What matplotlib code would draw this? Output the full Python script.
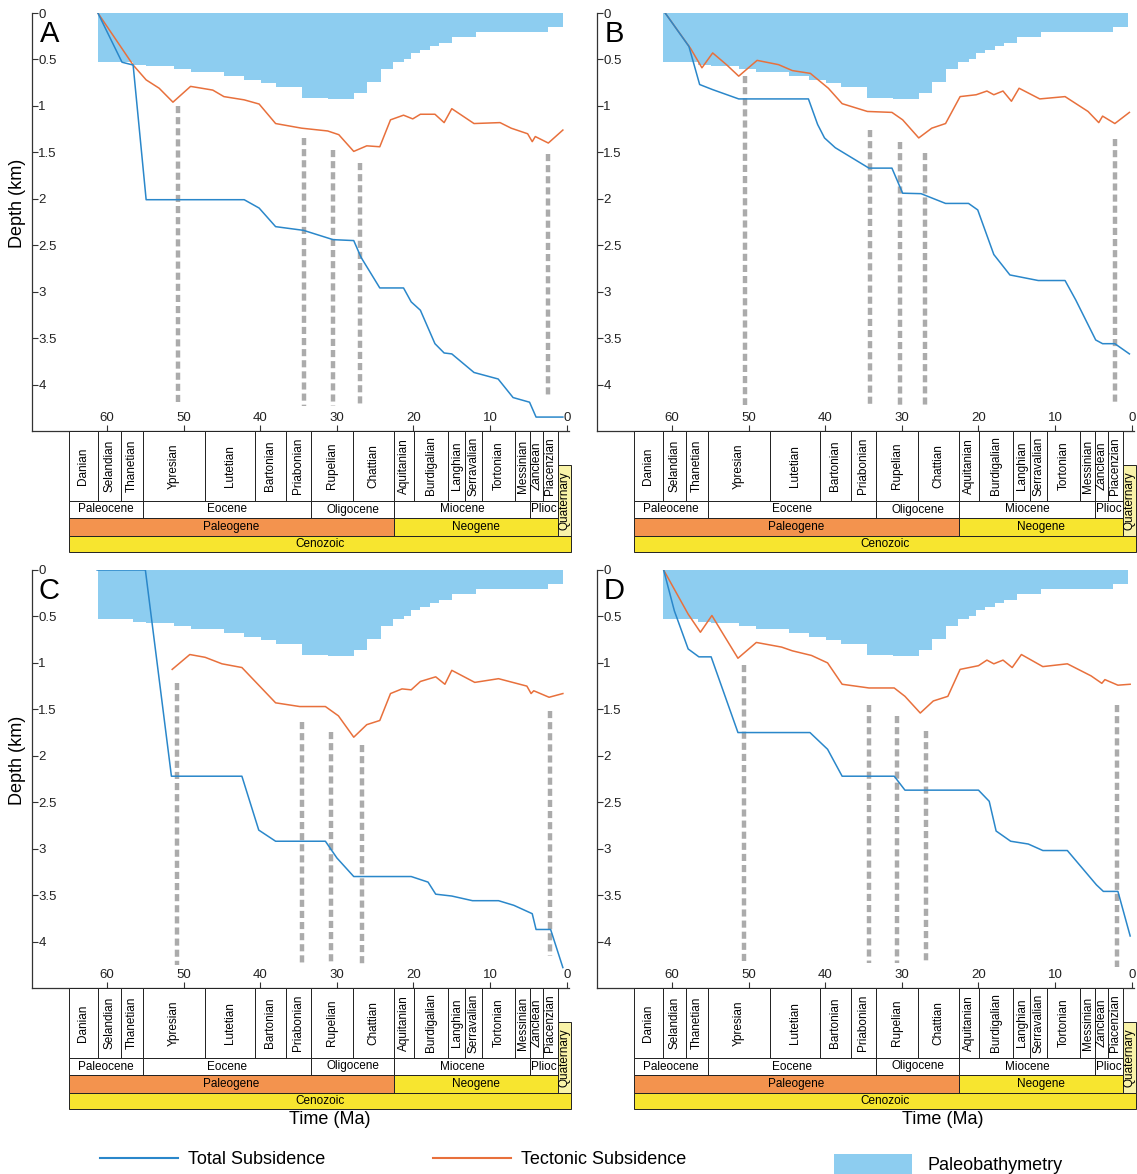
import numpy as np
import matplotlib
matplotlib.use('Agg')
import matplotlib.pyplot as plt
from matplotlib.lines import Line2D
from matplotlib.patches import Patch, Rectangle

plt.rcParams['font.family'] = ['Liberation Sans', 'DejaVu Sans']

# ---- data (ages in Ma, depths in km) ----
bathy_edges = [61.2, 56.6, 54.9, 51.3, 49.1, 44.75, 42.1, 39.9, 38.0, 34.6, 31.2, 27.8,
               26.1, 24.2, 22.7, 21.3, 20.3, 19.1, 17.9, 16.7, 15.0, 11.85, 2.4, 0.5]
bathy_depth = [0.53, 0.555, 0.575, 0.60, 0.64, 0.68, 0.72, 0.75, 0.80, 0.92, 0.93, 0.86,
               0.74, 0.60, 0.53, 0.49, 0.43, 0.40, 0.36, 0.32, 0.26, 0.20, 0.15]

# well A
a_total_age = [61.2, 58.05, 56.6, 54.9, 42.1, 40.15, 38.0, 34.35, 30.5, 27.8, 26.85, 24.4, 21.3,
               20.3, 19.1, 17.2, 16.0, 15.0, 12.1, 8.95, 7.0, 4.85, 4.0, 0.5]
a_total = [0, 0.53, 0.56, 2.01, 2.01, 2.10, 2.30, 2.34, 2.44, 2.45, 2.63, 2.96, 2.96,
           3.11, 3.20, 3.56, 3.66, 3.67, 3.87, 3.94, 4.14, 4.19, 4.35, 4.35]
a_tect_age = [61.2, 56.6, 54.9, 53.2, 51.4, 49.1, 46.2, 44.75, 42.1, 40.15, 38.0, 34.6, 31.2,
              29.75, 27.8, 26.1, 24.4, 23.0, 21.3, 20.1, 19.1, 17.2, 16.0, 15.0, 12.1, 8.7,
              7.25, 5.1, 4.5, 4.1, 2.4, 0.5]
a_tect = [0, 0.56, 0.72, 0.81, 0.96, 0.79, 0.83, 0.90, 0.935, 0.98, 1.19, 1.24, 1.27,
          1.31, 1.49, 1.43, 1.44, 1.15, 1.10, 1.14, 1.09, 1.09, 1.18, 1.03, 1.19, 1.18,
          1.24, 1.30, 1.385, 1.33, 1.40, 1.26]
a_mark_age = [50.8, 34.35, 30.5, 27.0, 2.4]
a_mark_top = [1.0, 1.35, 1.48, 1.61, 1.52]
a_mark_bot = [4.23, 4.23, 4.23, 4.23, 4.15]

# well B
b_total_age = [60.9, 57.8, 56.4, 54.7, 51.3, 42.2, 41.0, 40.1, 38.7, 37.3, 34.3, 31.3, 29.9,
               27.5, 24.3, 21.3, 20.1, 18.0, 15.9, 12.2, 8.7, 7.3, 4.7, 3.8, 2.2, 0.3]
b_total = [0, 0.36, 0.77, 0.825, 0.925, 0.925, 1.20, 1.345, 1.45, 1.52, 1.67, 1.67, 1.94,
           1.945, 2.05, 2.05, 2.12, 2.60, 2.82, 2.88, 2.88, 3.09, 3.52, 3.56, 3.56, 3.67]
b_tect_age = [60.9, 57.6, 56.1, 54.7, 52.9, 51.3, 48.9, 46.1, 44.3, 41.95, 39.6, 37.8, 34.5,
              31.3, 29.9, 27.8, 26.1, 24.3, 22.4, 20.3, 18.9, 18.0, 16.8, 15.7, 14.7, 12.0,
              8.7, 5.7, 4.3, 3.8, 2.2, 0.3]
b_tect = [0, 0.38, 0.59, 0.43, 0.556, 0.68, 0.51, 0.556, 0.62, 0.65, 0.81, 0.976, 1.06,
          1.07, 1.15, 1.345, 1.24, 1.19, 0.90, 0.88, 0.84, 0.88, 0.84, 0.95, 0.81, 0.925,
          0.90, 1.06, 1.18, 1.11, 1.19, 1.07]
b_mark_age = [50.5, 34.1, 30.3, 27.0, 2.2]
b_mark_top = [0.68, 1.26, 1.39, 1.51, 1.36]
b_mark_bot = [4.22, 4.22, 4.22, 4.22, 4.20]

# well C
c_total_age = [61.3, 55.0, 51.6, 42.4, 40.2, 38.0, 31.5, 30.0, 27.8, 20.3, 18.1, 17.1, 15.0,
               12.3, 8.9, 6.9, 4.5, 4.0, 2.1, 0.5]
c_total = [0, 0, 2.22, 2.22, 2.80, 2.92, 2.92, 3.10, 3.30, 3.30, 3.36, 3.49, 3.51,
           3.56, 3.56, 3.61, 3.70, 3.87, 3.87, 4.28]
c_tect_age = [51.5, 49.2, 47.2, 45.0, 42.4, 40.2, 38.0, 34.85, 31.5, 29.8, 27.8, 26.1, 24.4,
              23.0, 21.5, 20.3, 19.1, 17.1, 15.9, 15.0, 12.0, 8.9, 5.2, 4.65, 4.3, 2.3, 0.5]
c_tect = [1.07, 0.91, 0.94, 1.01, 1.05, 1.24, 1.43, 1.47, 1.47, 1.57, 1.80, 1.665, 1.62,
          1.33, 1.28, 1.29, 1.20, 1.15, 1.23, 1.08, 1.21, 1.17, 1.25, 1.33, 1.30, 1.37, 1.33]
c_mark_age = [50.9, 34.6, 30.8, 26.7, 2.2]
c_mark_top = [1.22, 1.64, 1.74, 1.88, 1.52]
c_mark_bot = [4.25, 4.25, 4.25, 4.25, 4.16]

# well D
d_total_age = [61.1, 59.7, 57.9, 56.5, 54.9, 51.4, 42.0, 39.7, 37.8, 31.0, 29.6, 20.0, 18.6,
               17.7, 15.8, 13.5, 11.6, 8.4, 4.6, 3.7, 1.8, 0.2]
d_total = [0, 0.44, 0.85, 0.935, 0.935, 1.75, 1.75, 1.93, 2.22, 2.22, 2.37, 2.37, 2.49,
           2.81, 2.92, 2.95, 3.02, 3.02, 3.39, 3.46, 3.46, 3.94]
d_tect_age = [61.1, 57.9, 56.3, 54.8, 53.7, 51.4, 49.0, 45.7, 44.3, 41.8, 39.7, 37.8, 34.3,
              31.0, 29.6, 27.6, 25.9, 24.0, 22.4, 20.0, 18.9, 18.0, 16.8, 15.6, 14.4, 11.6,
              8.4, 5.3, 3.9, 3.5, 1.8, 0.2]
d_tect = [0, 0.475, 0.67, 0.49, 0.64, 0.95, 0.78, 0.83, 0.87, 0.92, 1.00, 1.23, 1.27,
          1.27, 1.36, 1.54, 1.41, 1.36, 1.07, 1.03, 0.97, 1.01, 0.97, 1.05, 0.91, 1.04,
          1.01, 1.14, 1.22, 1.18, 1.24, 1.23]
d_mark_age = [50.6, 34.3, 30.6, 26.8, 1.9]
d_mark_top = [1.02, 1.45, 1.57, 1.73, 1.45]
d_mark_bot = [4.23, 4.23, 4.23, 4.23, 4.27]

# geologic time scale
stage_names = ['Danian', 'Selandian', 'Thanetian', 'Ypresian', 'Lutetian', 'Bartonian',
               'Priabonian', 'Rupelian', 'Chattian', 'Aquitanian', 'Burdigalian', 'Langhian',
               'Serravalian', 'Tortonian', 'Messinian', 'Zanclean', 'Piacenzian']
stage_edges = [65.5, 61.7, 58.7, 55.8, 47.8, 41.2, 37.2, 33.9, 28.4, 23.03, 20.43, 15.97,
               13.82, 11.61, 7.25, 5.33, 3.6, 1.7]
epoch_names = ['Paleocene', 'Eocene', 'Oligocene', 'Miocene', 'Plioc']
epoch_edges = [65.5, 55.8, 33.9, 23.03, 5.33, 1.7]
period_names = ['Paleogene', 'Neogene']
period_edges = [65.5, 23.03, 1.7]
quat_edges = [1.7, -0.1]
era_edges = [65.5, -0.1]

xticks = [60, 50, 40, 30, 20, 10, 0]
yticks = [0, 0.5, 1, 1.5, 2, 2.5, 3, 3.5, 4]
ytick_labels = ['0', '0.5', '1', '1.5', '2', '2.5', '3', '3.5', '4']

BLUE = '#2A87CA'
ORANGE = '#E8703C'
BATHY = '#8DCDF0'
GREY = '#ABABAB'
PALEOGENE = '#F3934E'
NEOGENE = '#F7E52F'
QUAT = '#F9F3A8'

W, H = 1137, 1174
fig = plt.figure(figsize=(W / 100, H / 100), dpi=100)


def px_axes(x0, y0, w, h):
    return fig.add_axes([x0 / W, 1 - (y0 + h) / H, w / W, h / H])


XLIM = (69.8, -0.3)
AX_W, AX_H, TS_H = 537, 418, 122


def panel(x0, y0, letter, tot_age, tot, tec_age, tec, m_age, m_top, m_bot):
    ax = px_axes(x0, y0, AX_W, AX_H)
    ax.set_xlim(*XLIM)
    ax.set_ylim(4.5, 0)
    edges = np.array(bathy_edges)[::-1]
    vals = np.array(bathy_depth)[::-1]
    ax.stairs(vals, edges, baseline=0, fill=True, color=BATHY, lw=0, zorder=1)
    ax.vlines(m_age, m_top, m_bot, colors=GREY, lw=3.2, linestyles=(0, (1.6, 0.9)), zorder=2)
    ax.plot(tec_age, tec, color=ORANGE, lw=1.1, zorder=3)
    ax.plot(tot_age, tot, color=BLUE, lw=1.1, zorder=4)
    for s in ['top', 'right']:
        ax.spines[s].set_visible(False)
    for s in ['left', 'bottom']:
        ax.spines[s].set_color('#333333')
        ax.spines[s].set_linewidth(0.9)
    ax.set_xticks(xticks)
    ax.set_yticks(yticks, labels=ytick_labels)
    ax.tick_params(direction='in', length=4, width=0.8, colors='#333333', labelsize=9.5,
                   labelcolor='#222222')
    ax.tick_params(axis='y', pad=-4.5)
    ax.tick_params(axis='x', pad=-5)
    for t in ax.get_yticklabels():
        t.set_ha('left')
    for t in ax.get_xticklabels():
        t.set_va('bottom')
    ax.text(0.032, 0.95, letter, transform=ax.transAxes, fontsize=21, ha='center', va='center')

    # time scale strip
    ts = px_axes(x0 + 4, y0 + AX_H, AX_W, TS_H)
    ts.set_xlim(*XLIM)
    ts.set_ylim(TS_H, 0)
    ts.axis('off')
    kw = dict(lw=0.7, edgecolor='#222222')
    for i, name in enumerate(stage_names):
        a, b = stage_edges[i], stage_edges[i + 1]
        ts.add_patch(Rectangle((b, 0), a - b, 70, facecolor='white', **kw))
        ts.text((a + b) / 2, 35, name, rotation=90, ha='center', va='center', fontsize=8.5)
    for i, name in enumerate(epoch_names):
        a, b = epoch_edges[i], epoch_edges[i + 1]
        ts.add_patch(Rectangle((b, 70), a - b, 17, facecolor='white', **kw))
        ts.text((a + b) / 2, 78.5, name, ha='center', va='center', fontsize=8.5)
    pcols = [PALEOGENE, NEOGENE]
    for i, name in enumerate(period_names):
        a, b = period_edges[i], period_edges[i + 1]
        ts.add_patch(Rectangle((b, 87), a - b, 18, facecolor=pcols[i], **kw))
        ts.text((a + b) / 2, 96, name, ha='center', va='center', fontsize=8.5)
    a, b = quat_edges
    ts.add_patch(Rectangle((b, 34), a - b, 71, facecolor=QUAT, **kw))
    ts.text((a + b) / 2, 69.5, 'Quaternary', rotation=90, ha='center', va='center', fontsize=8.5)
    a, b = era_edges
    ts.add_patch(Rectangle((b, 105), a - b, 16, facecolor=NEOGENE, **kw))
    ts.text(32.7, 113, 'Cenozoic', ha='center', va='center', fontsize=8.5)
    return ax


panel(32, 13, 'A', a_total_age, a_total, a_tect_age, a_tect, a_mark_age, a_mark_top, a_mark_bot)
panel(597, 13, 'B', b_total_age, b_total, b_tect_age, b_tect, b_mark_age, b_mark_top, b_mark_bot)
panel(32, 570, 'C', c_total_age, c_total, c_tect_age, c_tect, c_mark_age, c_mark_top, c_mark_bot)
panel(597, 570, 'D', d_total_age, d_total, d_tect_age, d_tect, d_mark_age, d_mark_top, d_mark_bot)

for yy in [203, 760]:
    fig.text(18 / W, 1 - yy / H, 'Depth (km)', rotation=90, ha='center', va='center',
             fontsize=13)
for xx in [330, 943]:
    fig.text(xx / W, 1 - 1120 / H, 'Time (Ma)', ha='center', va='center', fontsize=13)

lprop = dict(size=13)
fig.legend(handles=[Line2D([], [], color=BLUE, lw=1.5)], labels=['Total Subsidence'],
           loc='center left', bbox_to_anchor=(100 / W, 1 - 1160 / H), frameon=False,
           borderpad=0, borderaxespad=0, handlelength=4.3, handletextpad=0.55, prop=lprop)
fig.legend(handles=[Line2D([], [], color=ORANGE, lw=1.5)], labels=['Tectonic Subsidence'],
           loc='center left', bbox_to_anchor=(433 / W, 1 - 1160 / H), frameon=False,
           borderpad=0, borderaxespad=0, handlelength=4.3, handletextpad=0.55, prop=lprop)
fig.legend(handles=[Patch(facecolor=BATHY, edgecolor='none')], labels=['Paleobathymetry'],
           loc='center left', bbox_to_anchor=(834 / W, 1 - 1164 / H), frameon=False,
           borderpad=0, borderaxespad=0, handlelength=4.3, handleheight=1.35,
           handletextpad=0.9, prop=lprop)

fig.savefig('out.png', dpi=100)
